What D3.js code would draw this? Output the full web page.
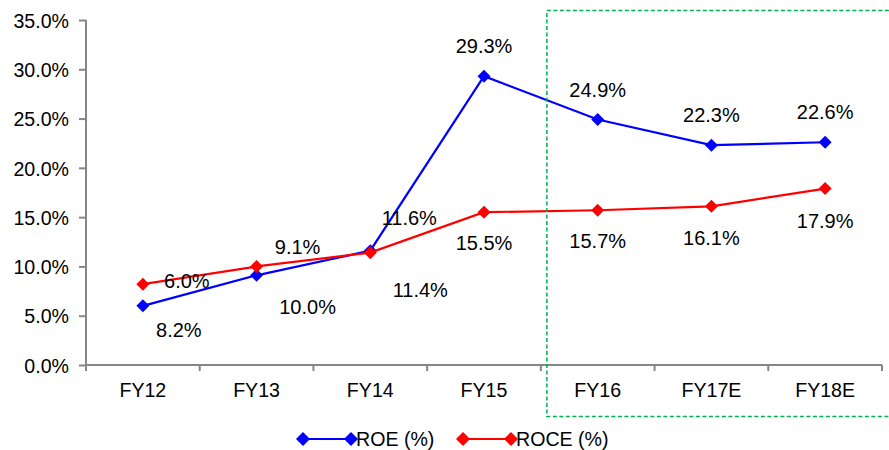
<!DOCTYPE html>
<html>
<head>
<meta charset="utf-8">
<script src="https://cdn.jsdelivr.net/npm/d3@7"></script>
<style>
  html, body { margin: 0; padding: 0; background: #fff; }
  svg { display: block; font-family: "Liberation Sans", Arial, sans-serif; }
</style>
</head>
<body>
<svg id="chart" width="889" height="450"></svg>
<script>
const categories = ["FY12", "FY13", "FY14", "FY15", "FY16", "FY17E", "FY18E"];
const roeValues  = [6.0, 9.1, 11.6, 29.3, 24.9, 22.3, 22.6];
const roceValues = [8.2, 10.0, 11.4, 15.5, 15.7, 16.1, 17.9];
const yTicks = [0, 5, 10, 15, 20, 25, 30, 35];
const seriesNames = ["ROE (%)", "ROCE (%)"];
const forecastStart = "FY16";

// label placement offsets (px) relative to the point
const roeLabelOffsets  = [[44, -25], [41, -28], [39, -33], [0, -30], [0, -30], [0, -30], [0, -30]];
const roceLabelOffsets = [[36, 46], [51, 41], [50, 37], [0, 31], [0, 31], [0, 32], [0, 32]];

const svg = d3.select("#chart");
const x = d3.scaleBand().domain(categories).range([86, 882]).padding(0);
const y = d3.scaleLinear().domain([0, 35]).range([365, 20]);
const axisColor = "#868686";
const fontSize = 19.6;

// Y axis
const yAxis = svg.append("g").attr("transform", "translate(86,0)")
  .call(d3.axisLeft(y).tickValues(yTicks).tickSize(7).tickPadding(10)
    .tickFormat(d => d.toFixed(1) + "%"));
yAxis.select(".domain").attr("stroke", axisColor).attr("stroke-width", 2)
  .attr("d", `M0,${y(35)}V${y(0)}`);
yAxis.selectAll(".tick line").attr("stroke", axisColor).attr("stroke-width", 2);
yAxis.selectAll(".tick text").attr("fill", "#000").attr("font-size", fontSize)
  .attr("font-family", "Liberation Sans, Arial, sans-serif").attr("dy", "0.37em");

// X axis
const xAxisG = svg.append("g").attr("transform", `translate(0,${y(0)})`);
xAxisG.append("line").attr("x1", 86).attr("x2", 882).attr("y1", 0).attr("y2", 0)
  .attr("stroke", axisColor).attr("stroke-width", 2);
const bounds = categories.map(c => x(c)).concat([x(categories[categories.length - 1]) + x.bandwidth()]);
xAxisG.selectAll("line.tk").data(bounds).join("line").attr("class", "tk")
  .attr("x1", d => d).attr("x2", d => d).attr("y1", 0).attr("y2", 6)
  .attr("stroke", axisColor).attr("stroke-width", 2);
xAxisG.selectAll("text").data(categories).join("text")
  .attr("x", d => x(d) + x.bandwidth() / 2).attr("y", 32)
  .attr("text-anchor", "middle").attr("font-size", fontSize).attr("fill", "#000")
  .text(d => d);

const cx = c => x(c) + x.bandwidth() / 2;
const diamond = d3.symbol().type(d3.symbolDiamond2 || d3.symbolSquare2).size(150);
function diamondPath(s) {
  return `M0,${-s}L${s},0L0,${s}L${-s},0Z`;
}

const series = [
  { name: seriesNames[0], values: roeValues, color: "#0000FF", offsets: roeLabelOffsets },
  { name: seriesNames[1], values: roceValues, color: "#FF0000", offsets: roceLabelOffsets }
];

const line = d3.line().x((d, i) => cx(categories[i])).y(d => y(d));

series.forEach(s => {
  const g = svg.append("g");
  g.append("path").attr("d", line(s.values)).attr("fill", "none")
    .attr("stroke", s.color).attr("stroke-width", 2.2);
  g.selectAll("path.m").data(s.values).join("path").attr("class", "m")
    .attr("transform", (d, i) => `translate(${cx(categories[i])},${y(d)})`)
    .attr("d", diamondPath(6.5)).attr("fill", s.color);
});

series.forEach(s => {
  svg.append("g").selectAll("text").data(s.values).join("text")
    .attr("x", (d, i) => cx(categories[i]) + s.offsets[i][0])
    .attr("y", (d, i) => y(d) + s.offsets[i][1])
    .attr("dy", "0.35em").attr("text-anchor", "middle")
    .attr("font-size", 20).attr("fill", "#000")
    .text(d => d.toFixed(1) + "%");
});

// forecast box
svg.append("rect").attr("x", x(forecastStart) + 6).attr("y", 10.5)
  .attr("width", 400).attr("height", 406)
  .attr("fill", "none").attr("stroke", "#00B050").attr("stroke-width", 1.5)
  .attr("stroke-dasharray", "4,2.5");

// legend
const legendItems = [
  { name: seriesNames[0], color: "#0000FF", x1: 303, x2: 351 },
  { name: seriesNames[1], color: "#FF0000", x1: 463, x2: 511 }
];
const lg = svg.append("g");
legendItems.forEach(it => {
  const ly = 439;
  lg.append("line").attr("x1", it.x1).attr("x2", it.x2).attr("y1", ly).attr("y2", ly)
    .attr("stroke", it.color).attr("stroke-width", 2.2);
  [it.x1, it.x2].forEach(px => {
    lg.append("path").attr("transform", `translate(${px},${ly})`)
      .attr("d", diamondPath(7)).attr("fill", it.color);
  });
  lg.append("text").attr("x", it.x2 + 5).attr("y", ly).attr("dy", "0.35em")
    .attr("font-size", fontSize).attr("fill", "#000").text(it.name);
});
</script>
</body>
</html>
